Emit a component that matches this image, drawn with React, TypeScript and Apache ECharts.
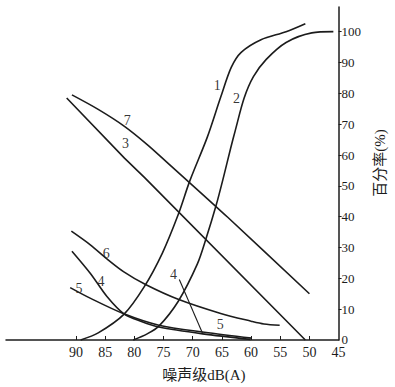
import React, { useEffect, useRef } from "react";
import * as echarts from "echarts";

// noise level dB(A) (x) vs percentage (%) (y)
const curve1: [number, number][] = [
  [89.2, 0], [86.2, 2.3], [81.8, 8.3], [78.3, 17.3], [75.2, 28.2], [72.5, 40.6],
  [70.5, 51.6], [67.5, 65.8], [65.2, 78.8], [63.4, 88.4], [61.7, 93.3],
  [58.3, 97.4], [54.0, 100.0], [50.7, 102.6],
];
const curve2: [number, number][] = [
  [80.2, 0], [77.8, 2.0], [75.8, 4.5], [72.5, 12.5], [69.2, 24.7], [67.7, 33.0],
  [66.0, 43.6], [64.7, 53.0], [63.5, 62.2], [62.7, 68.0], [61.2, 78.4],
  [59.6, 85.4], [57.4, 91.0], [54.0, 96.5], [49.6, 99.6], [45.9, 100.0],
];
const curve3: [number, number][] = [
  [91.6, 78.5], [81.7, 59.0], [78.2, 52.6], [50.7, 0],
];
const curve7: [number, number][] = [
  [90.7, 79.5], [86.2, 74.8], [81.7, 69.3], [77.8, 63.4], [74.5, 57.8],
  [64.0, 39.8], [50.0, 15.0],
];
const curve4: [number, number][] = [
  [90.7, 28.8], [87.5, 21.5], [84.7, 14.1], [81.8, 8.5], [78.8, 6.0],
  [75.8, 4.2], [68.3, 2.0], [60.1, 0.2],
];
const curve5: [number, number][] = [
  [91.0, 17.0], [87.5, 13.5], [81.8, 8.5], [75.8, 4.8], [68.0, 2.5], [59.9, 0.6],
];
const curve6: [number, number][] = [
  [90.8, 35.3], [87.5, 30.8], [84.7, 26.3], [81.8, 22.1], [78.0, 17.9],
  [72.5, 13.2], [65.2, 8.6], [60.0, 6.1], [57.8, 5.2], [55.1, 4.8],
];
const curveLabels: [number, number, string][] = [
  [65.8, 82.4, "1"], [62.5, 78.2, "2"], [81.2, 71.3, "7"], [81.5, 63.8, "3"],
  [84.8, 27.9, "6"], [85.7, 18.9, "4"], [89.5, 16.7, "5"], [73.3, 21.4, "4"],
  [65.3, 5.1, "5"],
];
const leader4: [number, number][] = [[72.3, 19.6], [68.3, 2.1]];

const xLabelValues = [45, 50, 55, 60, 65, 70, 75, 80, 85, 90];
const xTickValues = [50, 55, 60, 65, 70, 75, 80, 85, 90];
const yLabelValues = [0, 10, 20, 30, 40, 50, 60, 70, 80, 90, 100];
const yTickValues = [10, 20, 30, 40, 50, 60, 70, 80, 90, 100];

const INK = "#1c1c1c";
const SERIF = '"Liberation Serif", "DejaVu Serif", "Noto Sans CJK SC", serif';

export default function App() {
  const ref = useRef<HTMLDivElement>(null);
  useEffect(() => {
    if (!ref.current) return;
    const chart = echarts.init(ref.current, undefined, { renderer: "svg" });
    const lineStyle = { color: INK, width: 1.6 };
    const mk = (data: [number, number][], smooth: number | boolean) => ({
      type: "line",
      data,
      smooth,
      showSymbol: false,
      symbol: "none",
      lineStyle,
      itemStyle: { color: INK },
      silent: true,
      clip: false,
    });
    chart.setOption({
      animation: false,
      backgroundColor: "#ffffff",
      color: [INK],
      grid: { left: 6, right: 48, top: 7, bottom: 43 },
      xAxis: {
        type: "value",
        inverse: true,
        min: 45,
        max: 102,
        name: "噪声级dB(A)",
        nameLocation: "middle",
        nameGap: 27,
        nameTextStyle: { fontFamily: SERIF, fontSize: 15, color: INK, padding: [0, 0, 0, 63] },
        axisLine: { show: true, onZero: false, lineStyle: { color: INK, width: 1.5 } },
        axisTick: { show: true, inside: true, length: 4, customValues: xTickValues, lineStyle: { color: INK } },
        axisLabel: { customValues: xLabelValues, color: INK, fontFamily: SERIF, fontSize: 14, margin: 6 },
        splitLine: { show: false },
      },
      yAxis: {
        type: "value",
        position: "right",
        min: 0,
        max: 108,
        name: "百分率(%)",
        nameLocation: "middle",
        nameGap: 26,
        nameTextStyle: { fontFamily: SERIF, fontSize: 15, color: INK, padding: [0, 0, 0, 21] },
        axisLine: { show: true, onZero: false, lineStyle: { color: INK, width: 1.5 } },
        axisTick: { show: true, length: 3, customValues: yTickValues, lineStyle: { color: INK } },
        axisLabel: { customValues: yLabelValues, color: INK, fontFamily: SERIF, fontSize: 13, margin: 3 },
        splitLine: { show: false },
      },
      series: [
        mk(curve1, 0.3),
        mk(curve2, 0.3),
        mk(curve3, false),
        mk(curve7, 0.3),
        mk(curve4, 0.3),
        mk(curve5, 0.3),
        mk(curve6, 0.3),
        { ...mk(leader4, false), lineStyle: { color: INK, width: 1.1 } },
        {
          type: "scatter",
          data: curveLabels,
          symbolSize: 0,
          silent: true,
          itemStyle: { color: INK },
          label: {
            show: true,
            position: "top",
            distance: 0,
            verticalAlign: "middle",
            align: "center",
            formatter: (p: any) => p.value[2],
            color: "#000000",
            fontFamily: SERIF,
            fontSize: 14,
          },
        },
      ],
    });
    return () => chart.dispose();
  }, []);
  return (
    <div
      ref={ref}
      style={{ position: "absolute", left: 0, top: 0, width: 395, height: 387, background: "#fff" }}
    />
  );
}
